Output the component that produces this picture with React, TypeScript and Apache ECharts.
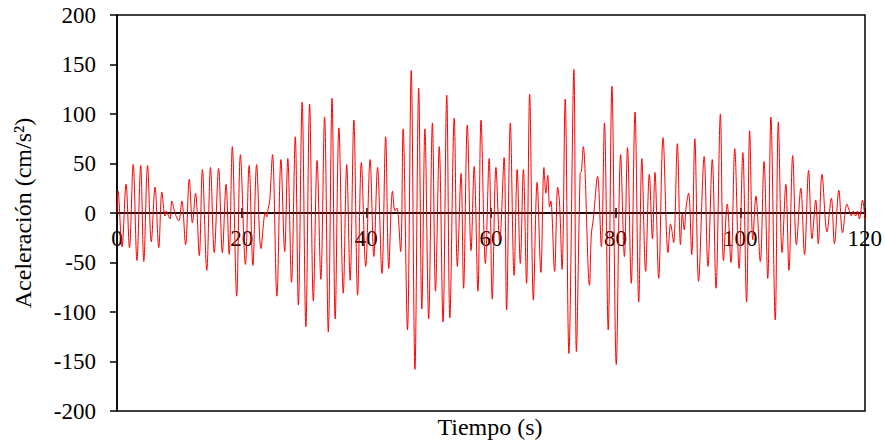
import React, { useEffect, useRef } from "react";
import * as echarts from "echarts";

const timeS: number[] = [
  0, 0.16, 0.8, 1.45, 2.0, 2.6, 3.2, 3.8, 4.3, 4.9, 5.5, 6.1, 6.7, 7.2, 7.7, 7.9, 8.2, 8.5, 8.8, 9.3,
  9.9, 10.4, 11.0, 11.6, 12.1, 12.6, 13.2, 13.7, 14.4, 15.0, 15.6, 16.3, 16.9, 17.5, 18.0, 18.5, 19.2, 19.8,
  20.6, 21.2, 21.8, 22.4, 23.1, 23.8, 24.0, 24.3, 24.5, 24.95, 25.65, 26.3, 26.9, 27.4, 28.0, 28.6, 29.1,
  29.7, 30.3, 30.9, 31.5, 32.1, 32.7, 33.3, 33.9, 34.5, 35.0, 35.6, 36.3, 36.85, 37.4, 38.0, 38.6, 39.2,
  39.9, 40.6, 41.2, 41.8, 42.5, 43.1, 43.6, 44.2, 44.6, 44.9, 45.5, 45.9, 46.6, 47.2, 47.8, 48.4, 48.9,
  49.4, 50.0, 50.6, 51.1, 51.7, 52.3, 52.9, 53.4, 54.1, 54.6, 55.2, 55.6, 56.2, 56.8, 57.3, 57.9, 58.4,
  59.1, 59.7, 60.2, 60.8, 61.4, 62.1, 62.5, 63.1, 63.7, 64.2, 64.7, 65.2, 65.7, 66.2, 66.8, 67.4, 68.0,
  68.5, 68.8, 69.1, 69.4, 69.6, 70.2, 70.7, 71.0, 71.4, 71.9, 72.5, 73.3, 73.7, 74.3, 74.5, 74.8, 75.8,
  76.1, 76.4, 77.1, 77.7, 78.2, 78.8, 79.4, 80.1, 80.8, 81.4, 81.9, 82.5, 83.1, 83.7, 84.2, 84.8, 85.4,
  85.9, 86.3, 86.9, 87.6, 88.4, 88.8, 89.0, 89.3, 89.9, 90.4, 90.7, 91.0, 91.3, 91.7, 92.2, 92.7, 93.3,
  94.2, 94.8, 95.5, 96.1, 96.8, 97.3, 97.9, 98.5, 99.1, 99.8, 100.4, 101.0, 101.5, 102.0, 102.5, 103.2,
  103.8, 104.4, 104.9, 105.6, 106.1, 106.7, 107.3, 107.8, 108.4, 109.0, 109.7, 110.3, 110.95, 111.5,
  112.1, 112.5, 113.1, 113.9, 114.6, 115.1, 115.8, 116.4, 117.1, 117.4, 117.8, 118.1, 118.5, 118.8,
  119.1, 119.6, 120,
];

const acceleration: number[] = [
  0, 22, -34, 29, -35, 49, -48, 48, -49, 48, -29, 26, -35, 21, -3, 2, -2, -6, 12, 0,
  -8, 12, -32, 34, -10, 20, -43, 44, -58, 46, -40, 45, -40, 29, -42, 67, -84, 59,
  -52, 48, -53, 49, -36, 1, -4, 6, 12, 59, -84, 54, -39, 55, -70, 77, -93,
  112, -115, 110, -89, 53, -67, 97, -120, 116, -107, 86, -81, 49, -68, 94, -83, 51,
  -54, 54, -44, 46, -61, 77, -56, 22, 2, 5, -39, 85, -118, 144, -158, 126, -97,
  85, -107, 91, -79, 67, -110, 119, -106, 96, -54, 40, -76, 89, -38, 47, -79, 94,
  -51, 55, -87, 46, -29, 56, -98, 91, -63, 44, -51, 44, -71, 120, -88, 31, -60,
  46, 20, 38, 6, 12, -59, 26, 10, -57, 115, -142, 145, -140, 40, 42, 67, -73,
  -21, -7, 37, -34, 91, -118, 128, -153, 59, -44, 66, -71, 102, -90, 55, -59, 39,
  -26, 41, -66, 76, -40, -11, -17, -30, 70, -32, -1, -17, 6, 20, -42, 75, -69,
  57, -54, 54, -76, 100, -48, 9, -50, 65, -56, 61, -90, 83, -27, 17, -49,
  52, -66, 97, -108, 92, -40, 29, -58, 58, -32, 25, -42, 43, -26,
  13, -31, 39, -19, 15, -31, 23, -20, 9, 4, -3, 2, -3, 2,
  -6, 13, -7,
];

const yTicks = { min: -200, max: 200, step: 50 };
const xTicks = { min: 0, max: 120, step: 20 };
const xTitle = "Tiempo (s)";
const yTitle = "Aceleración (cm/s²)";

const FONT = "'Liberation Serif', 'Times New Roman', serif";

export default function App() {
  const ref = useRef<HTMLDivElement>(null);
  useEffect(() => {
    if (!ref.current) return;
    const chart = echarts.init(ref.current, null, { renderer: "svg" });
    const data = timeS.map((t, i) => [t, acceleration[i]]);
    const W = 885;
    const H = 443;
    const left = 117;
    const right = 20;
    const top = 15;
    const bottom = 32;
    const plotH = H - top - bottom;
    const zeroY = top + (plotH * yTicks.max) / (yTicks.max - yTicks.min);
    const axisStyle = { color: "#000", width: 1.5 };
    chart.setOption({
      animation: false,
      backgroundColor: "#fff",
      grid: [
        {
          left,
          right,
          top,
          bottom,
          show: true,
          borderColor: "#000",
          borderWidth: 1.5,
        },
        {
          left,
          right,
          top,
          bottom: H - zeroY,
          show: false,
        },
      ],
      xAxis: [
        {
          type: "value",
          gridIndex: 0,
          min: xTicks.min,
          max: xTicks.max,
          interval: xTicks.step,
          position: "bottom",
          axisLine: { onZero: true, onZeroAxisIndex: 0, lineStyle: axisStyle },
          axisTick: { show: true, length: 5, lineStyle: axisStyle },
          axisLabel: { show: false },
          splitLine: { show: false },
        },
        {
          type: "value",
          gridIndex: 0,
          min: xTicks.min,
          max: xTicks.max,
          interval: xTicks.step,
          position: "top",
          axisLine: { onZero: true, onZeroAxisIndex: 0, lineStyle: axisStyle },
          axisTick: { show: true, length: 5, lineStyle: axisStyle },
          axisLabel: { show: false },
          splitLine: { show: false },
        },
        {
          type: "value",
          gridIndex: 1,
          min: xTicks.min,
          max: xTicks.max,
          interval: xTicks.step,
          position: "bottom",
          axisLine: { show: false, onZero: false },
          axisTick: { show: false },
          axisLabel: {
            color: "#000",
            fontFamily: FONT,
            fontSize: 23,
            margin: 14,
          },
          splitLine: { show: false },
        },
      ],
      yAxis: [
        {
          type: "value",
          gridIndex: 0,
          min: yTicks.min,
          max: yTicks.max,
          interval: yTicks.step,
          axisLine: { show: true, onZero: false, lineStyle: axisStyle },
          axisTick: { show: true, length: 7, lineStyle: axisStyle },
          axisLabel: {
            color: "#000",
            fontFamily: FONT,
            fontSize: 23,
            margin: 21,
          },
          splitLine: { show: false },
          name: yTitle,
          nameLocation: "middle",
          nameRotate: 90,
          nameGap: 82,
          nameTextStyle: { color: "#000", fontFamily: FONT, fontSize: 24 },
        },
        {
          type: "value",
          gridIndex: 1,
          min: 0,
          max: yTicks.max,
          show: false,
        },
      ],
      graphic: [
        {
          type: "text",
          x: 490,
          y: 427,
          style: {
            text: xTitle,
            fill: "#000",
            font: `24px ${FONT}`,
            textAlign: "center",
            textVerticalAlign: "middle",
          },
        },
      ],
      series: [
        {
          type: "line",
          data,
          xAxisIndex: 0,
          yAxisIndex: 0,
          showSymbol: false,
          symbol: "none",
          smooth: 0.35,
          lineStyle: { color: "#ff0000", width: 1 },
          z: 1,
        },
      ],
    });
    return () => chart.dispose();
  }, []);
  return (
    <div
      ref={ref}
      style={{ position: "fixed", left: 0, top: 0, width: 885, height: 443 }}
    />
  );
}
